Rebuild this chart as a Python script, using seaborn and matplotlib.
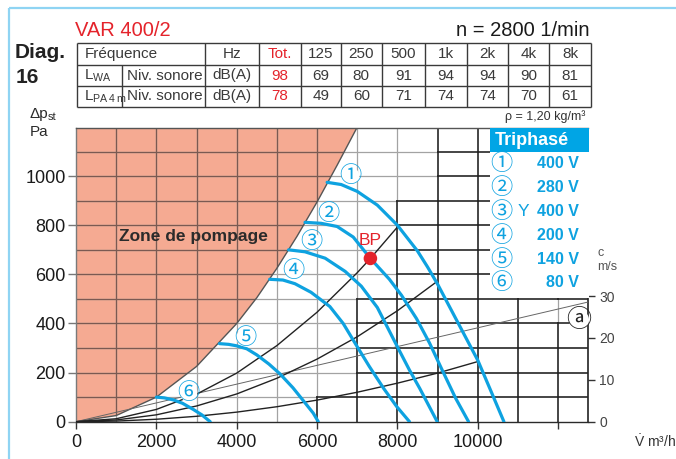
import numpy as np
import pandas as pd
import matplotlib
matplotlib.use("Agg")
import matplotlib.pyplot as plt
import seaborn as sns
from matplotlib.patches import Polygon, Rectangle
from matplotlib.collections import LineCollection

# ---------------- sound data ----------------
bands = ["Tot.", "125", "250", "500", "1k", "2k", "4k", "8k"]
lwa_db = [98, 69, 80, 91, 94, 94, 90, 81]
lpa_db = [78, 49, 60, 71, 74, 74, 70, 61]

# ---------------- fan curves (m3/h, Pa) ----------------
curve1_flow = [6250, 6600, 7000, 7500, 8000, 8500, 8750, 9000, 9500, 10000, 10300, 10650]
curve1_pa = [975, 966, 938, 882, 800, 695, 630, 560, 405, 250, 135, 0]
curve2_flow = [5700, 6100, 6500, 6900, 7327, 7800, 8100, 8474, 8800, 9100, 9450, 9770]
curve2_pa = [812, 808, 795, 752, 665, 580, 515, 420, 320, 215, 95, 0]
curve3_flow = [5290, 5700, 6200, 6700, 7100, 7500, 7977, 8300, 8557, 8990]
curve3_pa = [700, 692, 666, 612, 552, 465, 312, 210, 135, 0]
curve4_flow = [4820, 5150, 5450, 5850, 6318, 6650, 6982, 7300, 7659, 7980, 8300]
curve4_pa = [580, 577, 562, 527, 469, 400, 310, 225, 135, 62, 0]
curve5_flow = [3570, 3800, 4000, 4250, 4500, 4800, 5075, 5400, 5660, 5904, 6030]
curve5_pa = [318, 315, 309, 297, 272, 235, 195, 138, 85, 35, 0]
curve6_flow = [2000, 2200, 2420, 2650, 2919, 3130, 3340]
curve6_pa = [100, 97, 89, 75, 50, 28, 0]

curve_marks = ["①", "②", "③", "④", "⑤", "⑥"]
curve_volts = ["400 V", "280 V", "400 V", "200 V", "140 V", "80 V"]
curve_star = ["", "", "Y", "", "", ""]
curve_label_flow = [6830, 6290, 5870, 5420, 4210, 2800]
curve_label_pa = [1001, 848, 733, 617, 343, 118]

# ---------------- surge limit ----------------
surge_flow = [0, 1000, 2000, 3000, 4000, 4500, 5000, 5500, 6000, 6500, 7000]
surge_pa = [0, 25, 100, 225, 400, 505, 625, 755, 895, 1045, 1200]

# ---------------- system resistance curves ----------------
sys1_flow = [0, 1000, 2000, 3000, 4000, 5000, 6000, 7000, 7327, 7990]
sys1_pa = [0, 12, 50, 112, 198, 310, 446, 607, 665, 791]
sys2_flow = [0, 1000, 2000, 3000, 4000, 5000, 6000, 7000, 8000, 8960]
sys2_pa = [0, 7, 28, 64, 113, 177, 255, 346, 452, 568]
sys3_flow = [0, 1000, 2000, 3000, 4000, 5000, 6000, 7000, 8000, 9000, 10000]
sys3_pa = [0, 2.5, 10, 22, 39, 61, 88, 120, 157, 198, 245]

# ---------------- outlet velocity line (a) ----------------
vel_flow = [0, 12750]
vel_ms = [0, 28.6]
PA_PER_MS = 17.05

# ---------------- duty point ----------------
bp_flow, bp_pa = 7327, 665

# ---------------- styling ----------------
BLUE = "#0ea2e0"
RED = "#e4232b"
PINK = "#f5aa92"
X_MAX, Y_MAX = 12750, 1195
NARROW = ["Liberation Sans Narrow", "Liberation Sans", "DejaVu Sans"]
CIRC = ["Noto Sans CJK JP", "DejaVu Sans"]

sns.set_theme(style="white")
plt.rcParams["font.family"] = ["Liberation Sans", "DejaVu Sans"]
plt.rcParams["mathtext.default"] = "regular"

W, H = 676, 459
fig = plt.figure(figsize=(W / 100, H / 100), dpi=100)


def fig_rect(x0, y0, x1, y1):
    return [x0 / W, 1 - y1 / H, (x1 - x0) / W, (y1 - y0) / H]


page = fig.add_axes([0, 0, 1, 1], zorder=0)
page.set_xlim(0, W)
page.set_ylim(H, 0)
page.set_axis_off()

ax = fig.add_axes(fig_rect(76, 128.3, 588.3, 421.7), zorder=1)
ax.set_xlim(0, X_MAX)
ax.set_ylim(0, Y_MAX)

top = fig.add_axes([0, 0, 1, 1], zorder=3)
top.set_xlim(0, W)
top.set_ylim(H, 0)
top.set_axis_off()
top.patch.set_alpha(0)

# ---- page frame ----
page.plot([8.5, 8.5], [7.5, H], color="#8fd4f3", lw=1.6, solid_capstyle="butt")
page.plot([8.5, W], [7.5, 7.5], color="#8fd4f3", lw=1.6, solid_capstyle="butt")

# ---- titles ----
page.text(75, 36, "VAR 400/2", color=RED, fontsize=14.5, ha="left", va="baseline")
page.text(590, 35.5, "n = 2800 1/min", color="#1a1a1a", fontsize=14.5, ha="right", va="baseline")
page.text(15, 58, "Diag.", color="#222222", fontsize=15, fontweight="bold", ha="left", va="baseline")
page.text(16, 83, "16", color="#222222", fontsize=15, fontweight="bold", ha="left", va="baseline")

# ---- sound table ----
col_edges = [77.3, 122.3, 205, 258.7, 300.7, 341, 381.7, 425, 466.7, 508.3, 549.3, 591]
row_edges = [43.3, 65, 86, 106.7]
TC = "#3a3a3a"
page.hlines(row_edges, col_edges[0], col_edges[-1], color=TC, lw=1.0)
for i, xe in enumerate(col_edges):
    y0 = row_edges[1] if i == 1 else row_edges[0]
    page.vlines(xe, y0, row_edges[-1], color=TC, lw=1.0)
row_mid = [(row_edges[i] + row_edges[i + 1]) / 2 for i in range(3)]
tkw = dict(fontsize=11, family=NARROW, va="center")
page.text(85, row_mid[0], "Fréquence", color=TC, ha="left", **tkw)
page.text((col_edges[2] + col_edges[3]) / 2, row_mid[0], "Hz", color=TC, ha="center", **tkw)
page.text(84, row_mid[1], "L$_{WA}$", color=TC, ha="left", **tkw)
page.text(84, row_mid[2], r"L$_{PA\,4\,m}$", color=TC, ha="left", **tkw)
for r in (1, 2):
    page.text(127, row_mid[r], "Niv. sonore", color=TC, ha="left", **tkw)
    page.text((col_edges[2] + col_edges[3]) / 2, row_mid[r], "dB(A)", color=TC, ha="center", **tkw)
for j, (b, lw_, lp_) in enumerate(zip(bands, lwa_db, lpa_db)):
    cx = (col_edges[3 + j] + col_edges[4 + j]) / 2
    c = RED if j == 0 else TC
    page.text(cx, row_mid[0], b, color=c, ha="center", **tkw)
    page.text(cx, row_mid[1], str(lw_), color=c, ha="center", **tkw)
    page.text(cx, row_mid[2], str(lp_), color=c, ha="center", **tkw)

# ---- axis labels ----
page.text(29, 118, "Δp", color="#2a2a2a", fontsize=11, ha="left", va="baseline")
page.text(47.5, 120.5, "st", color="#2a2a2a", fontsize=8, ha="left", va="baseline")
page.text(30, 136, "Pa", color="#2a2a2a", fontsize=11, ha="left", va="baseline")
page.text(676, 447, r"$\dot{V}$ m³/h", color="#333333", fontsize=10, ha="right", va="baseline")

# ---- surge zone ----
pink = Polygon(list(zip(surge_flow, surge_pa)) + [(0, surge_pa[-1])], closed=True,
               facecolor=PINK, edgecolor="none", zorder=1)
ax.add_patch(pink)

# ---- grid ----
step_flow = [6000, 7000, 8000, 9000]
step_pa = [100, 500, 900, 1200]


def cell_dark(x0, y0):
    if x0 < 0 or x0 > 12000 or y0 < 0 or y0 > 1100:
        return False
    if x0 >= 11000 and y0 == 400:
        return False
    top_pa = y0 + 100
    for f, p in zip(step_flow, step_pa):
        if top_pa <= p:
            return x0 >= f
    return False


light_seg, dark_seg, all_seg = [], [], []
for X in range(1000, 12001, 1000):
    all_seg.append([(X, 0), (X, Y_MAX)])
    for y0 in range(0, 1101, 100):
        seg = [(X, y0), (X, min(y0 + 100, Y_MAX))]
        (dark_seg if (cell_dark(X - 1000, y0) or cell_dark(X, y0)) else light_seg).append(seg)
for Y in range(100, 1101, 100):
    all_seg.append([(0, Y), (X_MAX, Y)])
    for x0 in range(0, 12001, 1000):
        seg = [(x0, Y), (min(x0 + 1000, X_MAX), Y)]
        (dark_seg if (cell_dark(x0, Y - 100) or cell_dark(x0, Y)) else light_seg).append(seg)

ax.add_collection(LineCollection(light_seg, colors="#a3a3a3", linewidths=0.9, zorder=2, capstyle="butt"))
pink_grid = LineCollection(all_seg, colors="#7a5a52", linewidths=0.9, zorder=2.1, capstyle="butt")
ax.add_collection(pink_grid)
pink_grid.set_clip_path(pink)
ax.add_collection(LineCollection(dark_seg, colors="#262626", linewidths=1.2, zorder=2.2, capstyle="projecting"))

sns.lineplot(x=surge_flow, y=surge_pa, color="#555555", lw=1.0, sort=False, estimator=None, ax=ax, zorder=3)

# ---- velocity line and system curves ----
vel_pa = [v * PA_PER_MS for v in vel_ms]
sns.lineplot(x=vel_flow, y=vel_pa, color="#666666", lw=0.7, sort=False, estimator=None, ax=ax, zorder=3)
sys_df = pd.concat([
    pd.DataFrame({"flow": f, "pa": p, "sys": k})
    for k, (f, p) in enumerate([(sys1_flow, sys1_pa), (sys2_flow, sys2_pa), (sys3_flow, sys3_pa)])
])
sns.lineplot(data=sys_df, x="flow", y="pa", units="sys", color="#222222", lw=1.0,
             sort=False, estimator=None, ax=ax, zorder=3)

# ---- fan curves ----
fan_df = pd.concat([
    pd.DataFrame({"flow": f, "pa": p, "curve": str(i + 1)})
    for i, (f, p) in enumerate([(curve1_flow, curve1_pa), (curve2_flow, curve2_pa), (curve3_flow, curve3_pa),
                                (curve4_flow, curve4_pa), (curve5_flow, curve5_pa), (curve6_flow, curve6_pa)])
])
sns.lineplot(data=fan_df, x="flow", y="pa", hue="curve", palette=[BLUE] * 6, lw=2.3,
             sort=False, estimator=None, legend=False, ax=ax, zorder=4)

for m, fx, py in zip(curve_marks, curve_label_flow, curve_label_pa):
    ax.text(fx, py, m, color=BLUE, fontsize=16, family=CIRC, ha="center", va="center", zorder=5,
            bbox=dict(boxstyle="circle,pad=-0.12", fc="white", ec="none"))
ax.text(12520, 414, "ⓐ", color="#222222", fontsize=18, family=CIRC, ha="center", va="center", zorder=5,
        bbox=dict(boxstyle="circle,pad=-0.12", fc="white", ec="none"))

ax.text(2916, 756, "Zone de pompage", color="#2b2b2b", fontsize=12.5, fontweight="bold",
        ha="center", va="center", zorder=5)

# duty point
sns.scatterplot(x=[bp_flow], y=[bp_pa], s=95, color=RED, edgecolor="none", ax=ax, zorder=6)
ax.text(bp_flow, bp_pa + 74, "BP", color=RED, fontsize=12.5, ha="center", va="center", zorder=6)

# ---- axes styling ----
ax.set_xticks(range(0, 12001, 2000))
ax.set_xticklabels(["0", "2000", "4000", "6000", "8000", "10000", ""])
ax.set_yticks(range(0, 1001, 200))
ax.tick_params(axis="x", bottom=True, direction="out", length=5, width=1, color="#333333",
               labelsize=13, labelcolor="#1a1a1a", pad=4)
ax.tick_params(axis="y", left=True, direction="out", length=6, width=1, color="#777777",
               labelsize=13, labelcolor="#1a1a1a", pad=1.5)
ax.set_xlabel("")
ax.set_ylabel("")
ax.spines["right"].set_visible(False)
ax.spines["left"].set_color("#7a7a7a")
ax.spines["top"].set_color("#555555")
ax.spines["bottom"].set_color("#2a2a2a")
for s in ax.spines.values():
    s.set_linewidth(1.0)

sec = ax.secondary_yaxis("right", functions=(lambda p: p / PA_PER_MS, lambda c: c * PA_PER_MS))
sec.set_yticks([0, 10, 20, 30])
sec.tick_params(axis="y", right=True, left=False, direction="out", length=5, width=1, color="#333333",
                labelsize=10, labelcolor="#444444", pad=3)
sec.spines["right"].set_bounds(0, 30)
sec.spines["right"].set_color("#222222")
sec.spines["right"].set_linewidth(1.2)

# ---- legend panel ----
top.add_patch(Rectangle((490, 128.3), 99, 170, facecolor="white", edgecolor="none"))
top.add_patch(Rectangle((490, 128.3), 99, 23.4, facecolor="#00a5e5", edgecolor="none"))
top.text(495, 140.5, "Triphasé", color="white", fontsize=13, fontweight="bold", family=NARROW,
         ha="left", va="center")
row_y = [164, 187.5, 211, 235, 259, 282.5]
for m, s, v, ry in zip(curve_marks, curve_star, curve_volts, row_y):
    top.text(501, ry, m, color=BLUE, fontsize=16, family=CIRC, ha="center", va="center")
    if s:
        top.text(523, ry, s, color=BLUE, fontsize=12.5, family=NARROW, ha="center", va="center")
    top.text(579, ry, v, color=BLUE, fontsize=11.5, fontweight="bold", family=NARROW, ha="right", va="center")

top.text(585, 117, "ρ = 1,20 kg/m³", color="#333333", fontsize=9, ha="right", va="center")
top.text(598, 253, "c", color="#555555", fontsize=9, ha="left", va="center")
top.text(597, 267, "m/s", color="#555555", fontsize=9, ha="left", va="center")

fig.savefig("out.png", dpi=100)
